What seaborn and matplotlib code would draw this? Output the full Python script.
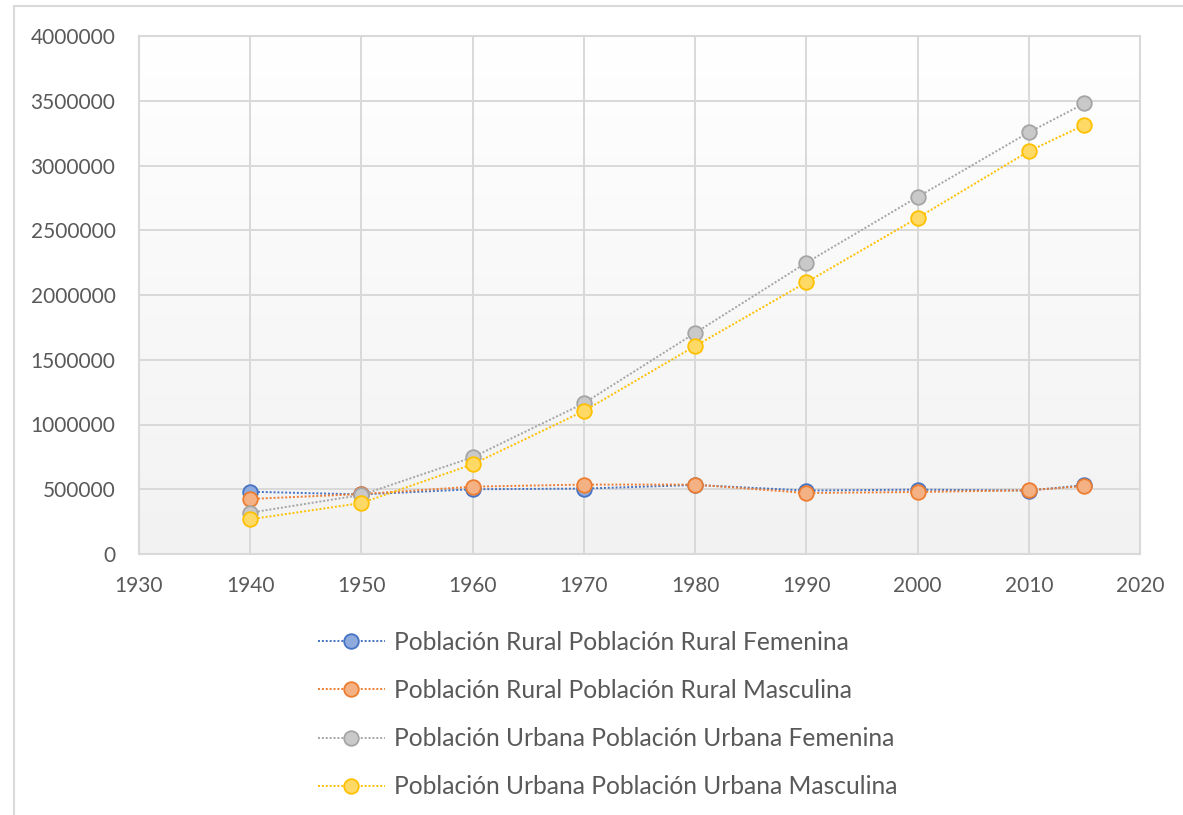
import numpy as np
import pandas as pd
import matplotlib
matplotlib.use("Agg")
import matplotlib.pyplot as plt
from matplotlib.colors import LinearSegmentedColormap
from matplotlib.lines import Line2D
import seaborn as sns

# datos
years = [1940, 1950, 1960, 1970, 1980, 1990, 2000, 2010, 2015]
rural_fem = [481000, 460000, 500000, 505000, 533000, 490000, 497000, 490000, 531000]
rural_masc = [425000, 463000, 520000, 536000, 536000, 471000, 479000, 492000, 525000]
urbana_fem = [319000, 456000, 747000, 1164000, 1707000, 2249000, 2757000, 3256000, 3479000]
urbana_masc = [268000, 394000, 693000, 1104000, 1606000, 2098000, 2595000, 3110000, 3313000]

labels = [
    "Población Rural Población Rural Femenina",
    "Población Rural Población Rural Masculina",
    "Población Urbana Población Urbana Femenina",
    "Población Urbana Población Urbana Masculina",
]
x_ticks = [1930, 1940, 1950, 1960, 1970, 1980, 1990, 2000, 2010, 2020]
y_ticks = [0, 500000, 1000000, 1500000, 2000000, 2500000, 3000000, 3500000, 4000000]

series = [rural_fem, rural_masc, urbana_fem, urbana_masc]
edge_colors = ["#4472C4", "#ED7D31", "#A5A5A5", "#FFC000"]
face_colors = ["#8FAADC", "#F4B183", "#C9C9C9", "#FFD966"]

sns.set_style("white")
plt.rcParams["font.family"] = ["Lato", "DejaVu Sans"]

fig = plt.figure(figsize=(11.83, 8.15), dpi=100)
ax = fig.add_axes([139 / 1183, 1 - 554 / 815, (1140 - 139) / 1183, (554 - 36) / 815])

# fondo con degradado
cmap = LinearSegmentedColormap.from_list("bg", ["#F2F2F2", "#FFFFFF"])
ax.imshow(np.linspace(0, 1, 256).reshape(-1, 1), extent=[0, 1, 0, 1], transform=ax.transAxes,
          aspect="auto", cmap=cmap, origin="lower", zorder=-2)

handles = []
for vals, lab, ec, fc in zip(series, labels, edge_colors, face_colors):
    df = pd.DataFrame({"Year": years, "Value": vals})
    sns.lineplot(data=df, x="Year", y="Value", ax=ax, color=ec, linestyle=(0, (1, 1)),
                 linewidth=1.4, marker="o", markersize=10.5, markerfacecolor=fc,
                 markeredgecolor=ec, markeredgewidth=1.3, label=lab, zorder=3)
    handles.append(Line2D([], [], color=ec, linestyle=(0, (1, 1)), linewidth=1.4, marker="o",
                          markersize=10.5, markerfacecolor=fc, markeredgecolor=ec,
                          markeredgewidth=1.3))

ax.set_xlim(1930, 2020)
ax.set_ylim(0, 4000000)
ax.set_xticks(x_ticks)
ax.set_yticks(y_ticks)
ax.set_xticklabels([str(t) for t in x_ticks])
ax.set_yticklabels([str(t) for t in y_ticks])
ax.set_xlabel("")
ax.set_ylabel("")
ax.grid(True, color="#D9D9D9", linewidth=1.4)
ax.set_axisbelow(True)
for s in ax.spines.values():
    s.set_color("#D9D9D9")
    s.set_linewidth(1.5)
ax.tick_params(axis="both", length=0, labelsize=15, labelcolor="#595959")
ax.tick_params(axis="y", pad=17)
ax.tick_params(axis="x", pad=16)

if ax.get_legend() is not None:
    ax.get_legend().remove()
fig.legend(handles, labels, loc="upper left", bbox_to_anchor=(318 / 1183, 1 - 631 / 815),
           bbox_transform=fig.transFigure, frameon=False, fontsize=17.7, labelcolor="#595959",
           handlelength=2.72, handletextpad=0.37, labelspacing=1.02, borderpad=0, borderaxespad=0)

# borde exterior (solo arriba e izquierda visibles)
fig.add_artist(Line2D([14 / 1183, 1], [1 - 6 / 815, 1 - 6 / 815], transform=fig.transFigure,
                      color="#D9D9D9", linewidth=1.5))
fig.add_artist(Line2D([14 / 1183, 14 / 1183], [0, 1 - 6 / 815], transform=fig.transFigure,
                      color="#D9D9D9", linewidth=1.5))

fig.savefig("out.png", dpi=100, facecolor="white")
